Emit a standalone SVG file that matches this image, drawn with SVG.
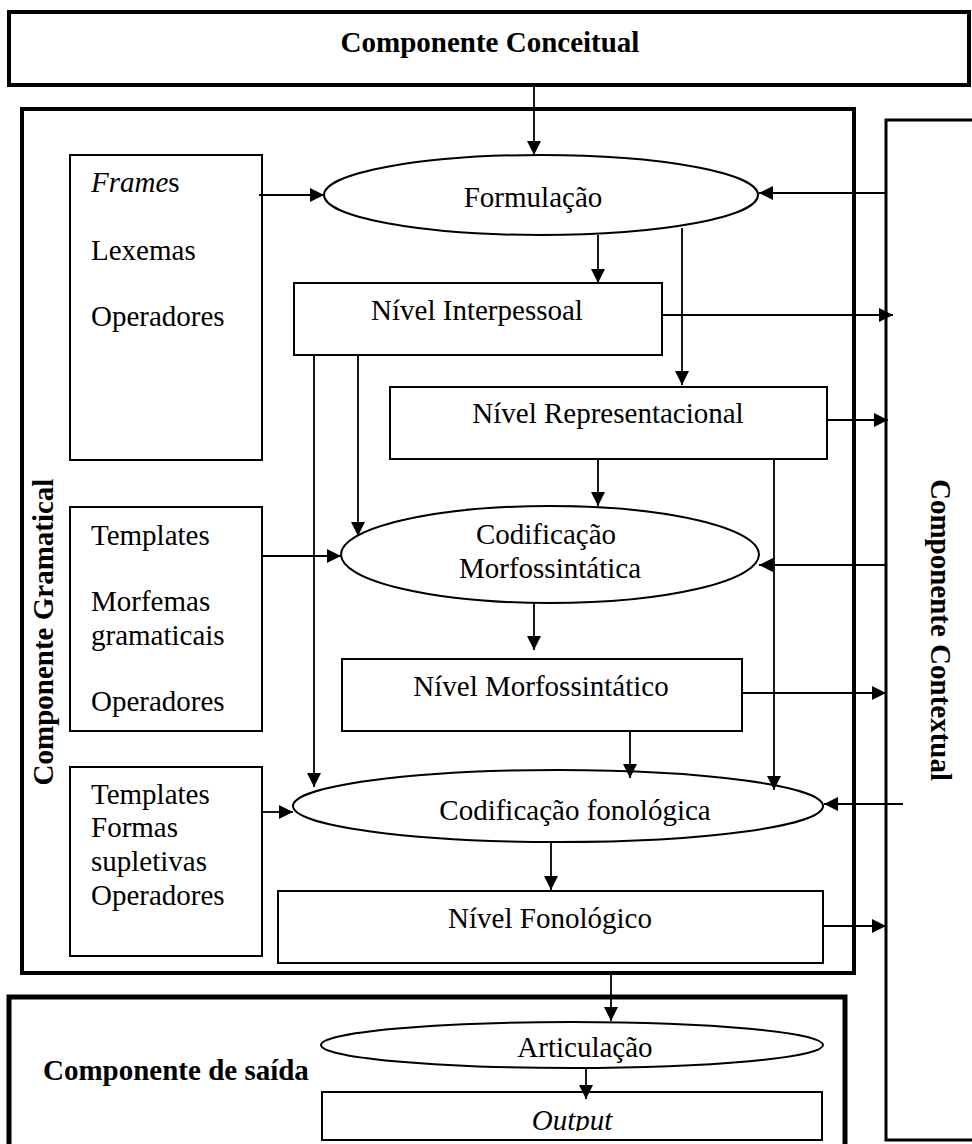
<svg xmlns="http://www.w3.org/2000/svg" width="972" height="1144" viewBox="0 0 972 1144">
<style>
text{font-family:"Liberation Serif","Times New Roman",serif;font-size:29px;fill:#000}
.b{font-weight:bold}
.c{text-anchor:middle}
.thick{fill:none;stroke:#000;stroke-width:4}
.box{fill:#fff;stroke:#000;stroke-width:2}
.ell{fill:#fff;stroke:#000;stroke-width:2}
.ln{fill:none;stroke:#000;stroke-width:1.8}
.ar{fill:none;stroke:#000;stroke-width:1.8;marker-end:url(#ah)}
</style>
<defs>
<marker id="ah" markerUnits="userSpaceOnUse" markerWidth="14" markerHeight="14" refX="14" refY="7" orient="auto">
<path d="M0,0 L14,7 L0,14 z" fill="#000"/>
</marker>
<clipPath id="outclip"><rect x="322" y="1092" width="500" height="39"/></clipPath>
</defs>
<rect width="972" height="1144" fill="#fff"/>

<g id="componente-conceitual">
<rect x="9" y="12" width="960" height="73" class="thick"/>
<text x="490" y="52" class="b c">Componente Conceitual</text>
</g>

<g id="componente-gramatical">
<rect x="22" y="109" width="832" height="864" class="thick"/>
<text transform="translate(53,632) rotate(-90)" class="b c">Componente Gramatical</text>
</g>

<g id="componente-contextual">
<rect x="886" y="120" width="95" height="1020" fill="none" stroke="#000" stroke-width="3"/>
<text transform="translate(931,630) rotate(90)" class="b c">Componente Contextual</text>
</g>

<g id="componente-saida">
<rect x="9" y="997" width="836" height="170" fill="none" stroke="#000" stroke-width="5"/>
<text x="43" y="1080" class="b">Componente de saída</text>
</g>

<g id="frames-box">
<rect x="70" y="155" width="192" height="305" class="box"/>
<text x="91" y="192"><tspan font-style="italic">Frame</tspan>s</text>
<text x="91" y="260">Lexemas</text>
<text x="91" y="326">Operadores</text>
</g>

<g id="templates-box-1">
<rect x="70" y="507" width="192" height="224" class="box"/>
<text x="91" y="545">Templates</text>
<text x="91" y="611">Morfemas</text>
<text x="91" y="645">gramaticais</text>
<text x="91" y="711">Operadores</text>
</g>

<g id="templates-box-2">
<rect x="70" y="767" width="192" height="189" class="box"/>
<text x="91" y="804">Templates</text>
<text x="91" y="837">Formas</text>
<text x="91" y="871">supletivas</text>
<text x="91" y="905">Operadores</text>
</g>

<g id="formulacao">
<ellipse cx="541" cy="195" rx="217" ry="40" class="ell"/>
<text x="533" y="207" class="c">Formulação</text>
</g>

<g id="nivel-interpessoal">
<rect x="294" y="283" width="368" height="72" class="box"/>
<text x="477" y="320" class="c">Nível Interpessoal</text>
</g>

<g id="nivel-representacional">
<rect x="390" y="387" width="437" height="72" class="box"/>
<text x="608" y="423" class="c">Nível Representacional</text>
</g>

<g id="codificacao-morfossintatica">
<ellipse cx="550" cy="554.5" rx="209" ry="48.5" class="ell"/>
<text x="546" y="544" class="c">Codificação</text>
<text x="550" y="578" class="c">Morfossintática</text>
</g>

<g id="nivel-morfossintatico">
<rect x="342" y="659" width="400" height="72" class="box"/>
<text x="541" y="696" class="c">Nível Morfossintático</text>
</g>

<g id="codificacao-fonologica">
<ellipse cx="558" cy="806" rx="265" ry="36" class="ell"/>
<text x="575" y="820" class="c">Codificação fonológica</text>
</g>

<g id="nivel-fonologico">
<rect x="278" y="891" width="545" height="72" class="box"/>
<text x="550" y="928" class="c">Nível Fonológico</text>
</g>

<g id="articulacao">
<ellipse cx="572" cy="1045" rx="251" ry="23" class="ell"/>
<text x="585" y="1057" class="c">Articulação</text>
</g>

<g id="output">
<rect x="322" y="1092" width="500" height="48" class="box"/>
<text x="572" y="1130" class="c" font-style="italic" clip-path="url(#outclip)">Output</text>
</g>

<g id="connectors">
<line x1="534" y1="86" x2="534" y2="155" class="ar"/>
<line x1="259" y1="195" x2="324" y2="195" class="ar"/>
<line x1="886" y1="193" x2="759" y2="193" class="ar"/>
<line x1="598" y1="235" x2="598" y2="283" class="ar"/>
<line x1="682" y1="228" x2="682" y2="385" class="ar"/>
<line x1="662" y1="315" x2="893" y2="315" class="ar"/>
<line x1="314" y1="355" x2="314" y2="787" class="ar"/>
<line x1="358" y1="355" x2="358" y2="536" class="ar"/>
<line x1="827" y1="420" x2="888" y2="420" class="ar"/>
<line x1="598" y1="459" x2="598" y2="506" class="ar"/>
<line x1="774" y1="459" x2="774" y2="790" class="ar"/>
<line x1="262" y1="556" x2="341" y2="556" class="ar"/>
<line x1="886" y1="565" x2="759" y2="565" class="ar"/>
<line x1="534" y1="603" x2="534" y2="650" class="ar"/>
<line x1="742" y1="693" x2="886" y2="693" class="ar"/>
<line x1="630" y1="731" x2="630" y2="778" class="ar"/>
<line x1="262" y1="812" x2="293" y2="812" class="ar"/>
<line x1="903" y1="804" x2="824" y2="804" class="ar"/>
<line x1="551" y1="842" x2="551" y2="890" class="ar"/>
<line x1="823" y1="926" x2="886" y2="926" class="ar"/>
<line x1="611" y1="975" x2="611" y2="1021" class="ar"/>
<line x1="586" y1="1068" x2="586" y2="1099" class="ar"/>
</g>
</svg>
